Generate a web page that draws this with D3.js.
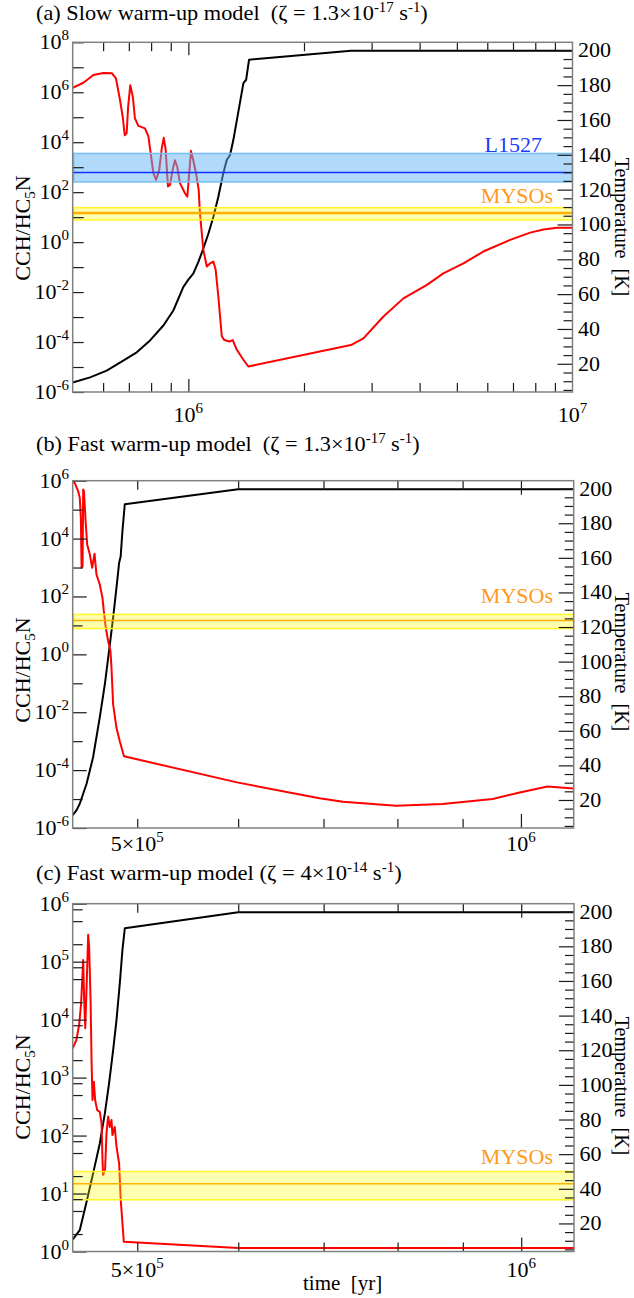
<!DOCTYPE html>
<html>
<head>
<meta charset="utf-8">
<title>CCH/HC5N abundance ratio vs time</title>
<script src="https://cdn.jsdelivr.net/npm/d3@7"></script>
<style>
  body { margin: 0; background: #fff; }
  svg { display: block; font-family: 'Liberation Serif', 'Times New Roman', serif; }
  text { white-space: pre; }
</style>
</head>
<body>
<svg id="chart" width="634" height="1298"></svg>
<script>
// (a) slow warm-up model, zeta = 1.3e-17 s^-1
var slowRatioTime = [5.00e5, 5.33e5, 5.66e5, 6.01e5, 6.32e5, 6.48e5, 6.64e5, 6.75e5, 6.83e5, 6.91e5,
  6.97e5, 7.06e5, 7.17e5, 7.26e5, 7.41e5, 7.71e5, 7.87e5, 7.98e5, 8.11e5, 8.24e5,
  8.40e5, 8.53e5, 8.63e5, 8.73e5, 8.85e5, 8.96e5, 9.10e5, 9.23e5, 9.36e5, 9.51e5,
  9.80e5, 9.94e5, 1.006e6, 1.016e6, 1.030e6, 1.047e6, 1.064e6, 1.072e6, 1.094e6, 1.117e6,
  1.139e6, 1.162e6, 1.178e6, 1.197e6, 1.222e6, 1.241e6, 1.279e6, 1.305e6, 1.337e6, 1.391e6,
  1.433e6, 2.65e6, 2.856e6, 3.22e6, 3.63e6, 4.18e6, 4.61e6, 5.20e6, 5.86e6, 6.88e6,
  7.76e6, 8.40e6, 9.11e6, 1.0e7]
var slowRatio = [1.5e6, 2.4e6, 4.9e6, 5.9e6, 5.8e6, 3.6e6, 4.9e5, 1.0e5, 1.9e4, 2.3e4,
  2.6e5, 1.9e6, 6.6e5, 9.1e4, 4.5e4, 3.6e4, 1.7e4, 3.6e3, 580, 310,
  780, 5.8e3, 1.5e4, 4.9e3, 170, 195, 780, 1.9e3, 1.0e3, 230,
  91, 66, 660, 4.5e3, 1.9e3, 580, 123, 14.5, 0.49, 0.105,
  0.14, 0.166, 0.078, 6.6e-3, 1.7e-4, 1.2e-4, 1.05e-4, 1.2e-4, 4.9e-5, 1.95e-5,
  1.05e-5, 7.6e-5, 1.4e-4, 1.05e-3, 5.6e-3, 0.0195, 0.056, 0.14, 0.42, 1.23,
  2.4, 3.2, 3.8, 3.8]
var slowTempTime = [5.00e5, 5.55e5, 6.13e5, 6.77e5, 7.34e5, 7.95e5, 8.61e5, 9.14e5, 9.70e5, 1.0e6,
  1.030e6, 1.062e6, 1.094e6, 1.128e6, 1.162e6, 1.197e6, 1.233e6, 1.259e6, 1.284e6, 1.310e6,
  1.350e6, 1.391e6, 1.414e6, 1.439e6, 2.65e6, 1.0e7]
var slowTemp = [9.3, 12.2, 16.1, 21.8, 26.6, 33.4, 42.0, 50.6, 64.0, 68.3,
  71.8, 78.5, 86.2, 94.8, 104.4, 115.9, 129.4, 137.0, 139.9, 148.6,
  164.9, 181.2, 183.1, 194.6, 199.8, 199.8]

// (b) fast warm-up model, zeta = 1.3e-17 s^-1
var fastRatioTime = [4.45e5, 4.467e5, 4.494e5, 4.507e5, 4.516e5, 4.522e5, 4.530e5, 4.535e5, 4.541e5, 4.555e5,
  4.568e5, 4.590e5, 4.609e5, 4.629e5, 4.645e5, 4.673e5, 4.696e5, 4.707e5, 4.724e5, 4.744e5,
  4.764e5, 4.773e5, 4.787e5, 4.816e5, 4.845e5, 4.882e5, 6.0e5, 6.95e5, 7.25e5, 7.98e5,
  8.68e5, 9.50e5, 9.96e5, 1.049e6, 1.1e6]
var fastRatio = [9.5e5, 8.3e5, 4.4e5, 2.6e5, 5.2e4, 980, 1.1e3, 5.0e5, 4.4e5, 4.0e4,
  6.2e3, 2.8e3, 980, 3.0e3, 580, 260, 89, 32, 8.3, 2.9,
  1.3, 0.34, 0.019, 2.9e-3, 1.0e-3, 3.0e-4, 3.7e-5, 1.07e-5, 8.1e-6, 5.9e-6,
  6.8e-6, 1.0e-5, 1.66e-5, 2.7e-5, 2.3e-5]
var fastTempTime = [4.45e5, 4.48e5, 4.507e5, 4.563e5, 4.617e5, 4.673e5, 4.716e5, 4.752e5, 4.787e5, 4.816e5,
  4.839e5, 4.853e5, 4.868e5, 4.889e5, 6.0e5, 1.1e6]
var fastTemp = [11.2, 14.0, 17.8, 29.4, 44.7, 67.8, 86.9, 106.2, 125.3, 142.6,
  157.0, 160.9, 175.2, 191.0, 199.6, 199.6]

// (c) fast warm-up model, zeta = 4e-14 s^-1
var crRatioTime = [4.45e5, 4.48e5, 4.502e5, 4.518e5, 4.535e5, 4.543e5, 4.552e5, 4.563e5, 4.576e5, 4.584e5,
  4.596e5, 4.604e5, 4.612e5, 4.623e5, 4.634e5, 4.651e5, 4.673e5, 4.688e5, 4.696e5, 4.701e5,
  4.718e5, 4.730e5, 4.744e5, 4.758e5, 4.773e5, 4.781e5, 4.801e5, 4.816e5, 4.839e5, 4.853e5,
  4.880e5, 6.0e5, 1.1e6]
var crRatio = [3.2e3, 4.5e3, 8.1e3, 1.9e4, 1.07e5, 2.2e4, 7.1e3, 3.7e4, 2.9e5, 1.8e5,
  2.2e4, 2.0e3, 410, 850, 410, 275, 257, 162, 38, 21,
  26, 110, 214, 141, 186, 102, 141, 65, 33, 7.8,
  1.48, 1.15, 1.15]
var crTempTime = [4.45e5, 4.507e5, 4.563e5, 4.617e5, 4.673e5, 4.716e5, 4.752e5, 4.787e5, 4.816e5, 4.845e5,
  4.868e5, 4.889e5, 6.0e5, 1.1e6]
var crTemp = [10.7, 16.1, 32.5, 48.9, 66.2, 83.5, 100.9, 120.1, 137.4, 158.6,
  177.9, 190.4, 199.7, 199.7]

// observed ratios: [low, central, high]
var l1527Band = [257, 617, 3550]
var mysosBand = [7.8, 14.8, 24]

// tick labels
var slowYExps = [-6, -4, -2, 0, 2, 4, 6, 8]
var fastYExps = [-6, -4, -2, 0, 2, 4, 6]
var crYExps = [0, 1, 2, 3, 4, 5, 6]
var slowXTicks = [1e6, 1e7]
var slowXLabels = [['10', '6'], ['10', '7']]
var fastXTicks = [5e5, 1e6]
var fastXLabels = [['5×10', '5'], ['10', '6']]
var tempTicks = [20, 40, 60, 80, 100, 120, 140, 160, 180, 200]

var titleA = ['(a) Slow warm-up model  (ζ = 1.3×10', '-17', ' s', '-1', ')']
var titleB = ['(b) Fast warm-up model  (ζ = 1.3×10', '-17', ' s', '-1', ')']
var titleC = ['(c) Fast warm-up model (ζ = 4×10', '-14', ' s', '-1', ')']

var TEMP_DOMAIN = [3.8, 204.6]
var svg = d3.select('#chart')

// odd entries of parts are raised as superscripts
function supText (sel, parts, supSize, rise) {
  parts.forEach(function (s, i) {
    var t = sel.append('tspan').text(s)
    if (i % 2 === 1) t.attr('font-size', supSize).attr('dy', -rise)
    else if (i > 0) t.attr('dy', rise)
  })
  return sel
}

function pow10 (e) { return Math.pow(10, e) }

function tickAxis (g, axis, pos, vals, len) {
  var a = g.append('g')
    .attr('transform', pos)
    .call(axis.tickValues(vals).tickSizeInner(-len).tickSizeOuter(0).tickFormat(''))
  a.select('.domain').remove()
  a.selectAll('line').attr('stroke', '#1a1a1a').attr('stroke-width', 1.2)
}

function drawPanel (p) {
  var x = d3.scaleLog().domain(p.xDomain).range([p.left, p.right])
  var y = d3.scaleLog().domain(p.yDomain).range([p.bottom, p.top])
  var yT = d3.scaleLinear().domain(TEMP_DOMAIN).range([p.bottom, p.top])
  var g = svg.append('g')

  svg.append('clipPath').attr('id', 'clip-' + p.id)
    .append('rect')
    .attr('x', p.left).attr('y', p.top)
    .attr('width', p.right - p.left).attr('height', p.bottom - p.top)

  var plot = g.append('g').attr('clip-path', 'url(#clip-' + p.id + ')')

  plot.append('path')
    .datum(d3.zip(p.tempTime, p.temp))
    .attr('fill', 'none').attr('stroke', '#000').attr('stroke-width', 2)
    .attr('stroke-linejoin', 'round')
    .attr('d', d3.line().x(function (d) { return x(d[0]) }).y(function (d) { return yT(d[1]) }))

  plot.append('path')
    .datum(d3.zip(p.ratioTime, p.ratio))
    .attr('fill', 'none').attr('stroke', '#ff0000').attr('stroke-width', 2)
    .attr('stroke-linejoin', 'round')
    .attr('d', d3.line().x(function (d) { return x(d[0]) }).y(function (d) { return y(d[1]) }))

  p.bands.forEach(function (b) {
    plot.append('rect')
      .attr('x', p.left + 1).attr('width', p.right - p.left - 1)
      .attr('y', y(b.range[2])).attr('height', y(b.range[0]) - y(b.range[2]))
      .attr('fill', b.fill).attr('fill-opacity', b.opacity)
      .attr('stroke', b.edge).attr('stroke-width', 1.5)
    plot.append('line')
      .attr('x1', p.left).attr('x2', p.right)
      .attr('y1', y(b.range[1])).attr('y2', y(b.range[1]))
      .attr('stroke', b.mid).attr('stroke-width', b.midWidth)
    g.append('text')
      .attr('x', b.labelX).attr('y', b.labelY)
      .attr('text-anchor', 'end').attr('font-size', 22)
      .attr('fill', b.labelColor)
      .text(b.label)
  })

  // ticks, all pointing inwards
  tickAxis(g, d3.axisBottom(x), 'translate(0,' + p.bottom + ')', p.xMajor, p.xMajorLen)
  tickAxis(g, d3.axisBottom(x), 'translate(0,' + p.bottom + ')', p.xMinor, 9)
  tickAxis(g, d3.axisTop(x), 'translate(0,' + p.top + ')', p.xMajor, p.xMajorLen)
  tickAxis(g, d3.axisTop(x), 'translate(0,' + p.top + ')', p.xMinor, 9)
  tickAxis(g, d3.axisLeft(y), 'translate(' + p.left + ',0)', p.yMajor, p.yMajorLen)
  if (p.yMinor.length) tickAxis(g, d3.axisLeft(y), 'translate(' + p.left + ',0)', p.yMinor, 10)
  tickAxis(g, d3.axisRight(yT), 'translate(' + p.right + ',0)', tempTicks, 15)
  tickAxis(g, d3.axisRight(yT), 'translate(' + p.right + ',0)',
    d3.range(5, 200, 5).filter(function (v) { return v % 20 !== 0 }), 9)

  g.append('rect')
    .attr('x', p.left).attr('y', p.top)
    .attr('width', p.right - p.left).attr('height', p.bottom - p.top)
    .attr('fill', 'none').attr('stroke', '#808080').attr('stroke-width', 1.5)

  // tick labels
  p.yLabels.forEach(function (e) {
    supText(g.append('text')
      .attr('x', 69).attr('y', y(pow10(e)) + 7)
      .attr('text-anchor', 'end').attr('font-size', 22), ['10', String(e)], 15, 9)
  })
  tempTicks.forEach(function (v) {
    g.append('text')
      .attr('x', p.right + 5.5).attr('y', yT(v) + 7)
      .attr('font-size', 22)
      .text(v)
  })
  p.xLabelTicks.forEach(function (v, i) {
    supText(g.append('text')
      .attr('x', x(v)).attr('y', p.xLabelY)
      .attr('text-anchor', 'middle').attr('font-size', 22), p.xLabels[i], 15, 9)
  })

  // axis titles
  var yt = g.append('text')
    .attr('transform', 'translate(30,' + p.yTitleY + ') rotate(-90)')
    .attr('text-anchor', 'middle').attr('font-size', 22)
  yt.append('tspan').text('CCH/HC')
  yt.append('tspan').attr('font-size', 15).attr('dy', 5).text('5')
  yt.append('tspan').attr('dy', -5).text('N')

  g.append('text')
    .attr('transform', 'translate(615,' + p.tTitleY + ') rotate(90)')
    .attr('text-anchor', 'middle').attr('font-size', 20)
    .text('Temperature  [K]')

  // panel title, stretched to the width it takes in the figure
  var title = supText(g.append('text').attr('font-size', 21), p.title, 14, 8)
  var bw = title.node().getBBox().width
  title.attr('transform', 'translate(36,' + p.titleY + ') scale(' + (p.titleW / bw) + ',1)')
}

var blueBand = { range: l1527Band, fill: 'rgb(100,182,245)', opacity: 0.5, edge: 'rgb(120,190,240)',
  mid: '#1030ff', midWidth: 1.6, label: 'L1527', labelColor: '#1a3cff', labelX: 542 }
function yellowBand (midWidth, labelY) {
  return { range: mysosBand, fill: '#ffff00', opacity: 0.3, edge: 'rgb(255,245,40)',
    mid: '#ffb000', midWidth: midWidth, label: 'MYSOs', labelColor: '#ff9a1a', labelX: 553, labelY: labelY }
}

var slowMinorX = [6e5, 7e5, 8e5, 9e5, 2e6, 3e6, 4e6, 5e6, 6e6, 7e6, 8e6, 9e6]
var fastMinorX = [5e5, 6e5, 7e5, 8e5, 9e5]

drawPanel({
  id: 'a', left: 72.7, right: 572.5, top: 42.3, bottom: 392,
  xDomain: [5e5, 1e7], yDomain: [1e-6, 1e8],
  ratioTime: slowRatioTime, ratio: slowRatio, tempTime: slowTempTime, temp: slowTemp,
  bands: [Object.assign({ labelY: 152 }, blueBand), yellowBand(2.5, 203)],
  xMajor: [1e6], xMajorLen: 13, xMinor: slowMinorX,
  yMajor: d3.range(-6, 9).map(pow10), yMajorLen: 11, yMinor: [],
  yLabels: slowYExps, xLabelTicks: slowXTicks, xLabels: slowXLabels, xLabelY: 422,
  yTitleY: 228, tTitleY: 227, title: titleA, titleY: 20, titleW: 392
})

drawPanel({
  id: 'b', left: 72.7, right: 573.7, top: 480.7, bottom: 828,
  xDomain: [4.45e5, 1.1e6], yDomain: [1e-6, 1e6],
  ratioTime: fastRatioTime, ratio: fastRatio, tempTime: fastTempTime, temp: fastTemp,
  bands: [yellowBand(1.5, 603)],
  xMajor: [1e6], xMajorLen: 14, xMinor: fastMinorX,
  yMajor: fastYExps.map(pow10), yMajorLen: 14,
  yMinor: [-5, -3, -1, 1, 3, 5].map(pow10),
  yLabels: fastYExps, xLabelTicks: fastXTicks, xLabels: fastXLabels, xLabelY: 851,
  yTitleY: 670, tTitleY: 662, title: titleB, titleY: 450.7, titleW: 384
})

var crMinorY = []
crYExps.slice(0, -1).forEach(function (e) {
  [2, 5, 8].forEach(function (m) { crMinorY.push(m * pow10(e)) })
})

drawPanel({
  id: 'c', left: 72.7, right: 574, top: 903.7, bottom: 1251.5,
  xDomain: [4.45e5, 1.1e6], yDomain: [1, 1e6],
  ratioTime: crRatioTime, ratio: crRatio, tempTime: crTempTime, temp: crTemp,
  bands: [yellowBand(1.5, 1164)],
  xMajor: [1e6], xMajorLen: 14, xMinor: fastMinorX,
  yMajor: crYExps.map(pow10), yMajorLen: 14, yMinor: crMinorY,
  yLabels: crYExps, xLabelTicks: fastXTicks, xLabels: fastXLabels, xLabelY: 1277,
  yTitleY: 1087, tTitleY: 1086, title: titleC, titleY: 880, titleW: 366
})

svg.append('text')
  .attr('x', 303).attr('y', 1290)
  .attr('font-size', 21)
  .text('time  [yr]')
</script>
</body>
</html>
